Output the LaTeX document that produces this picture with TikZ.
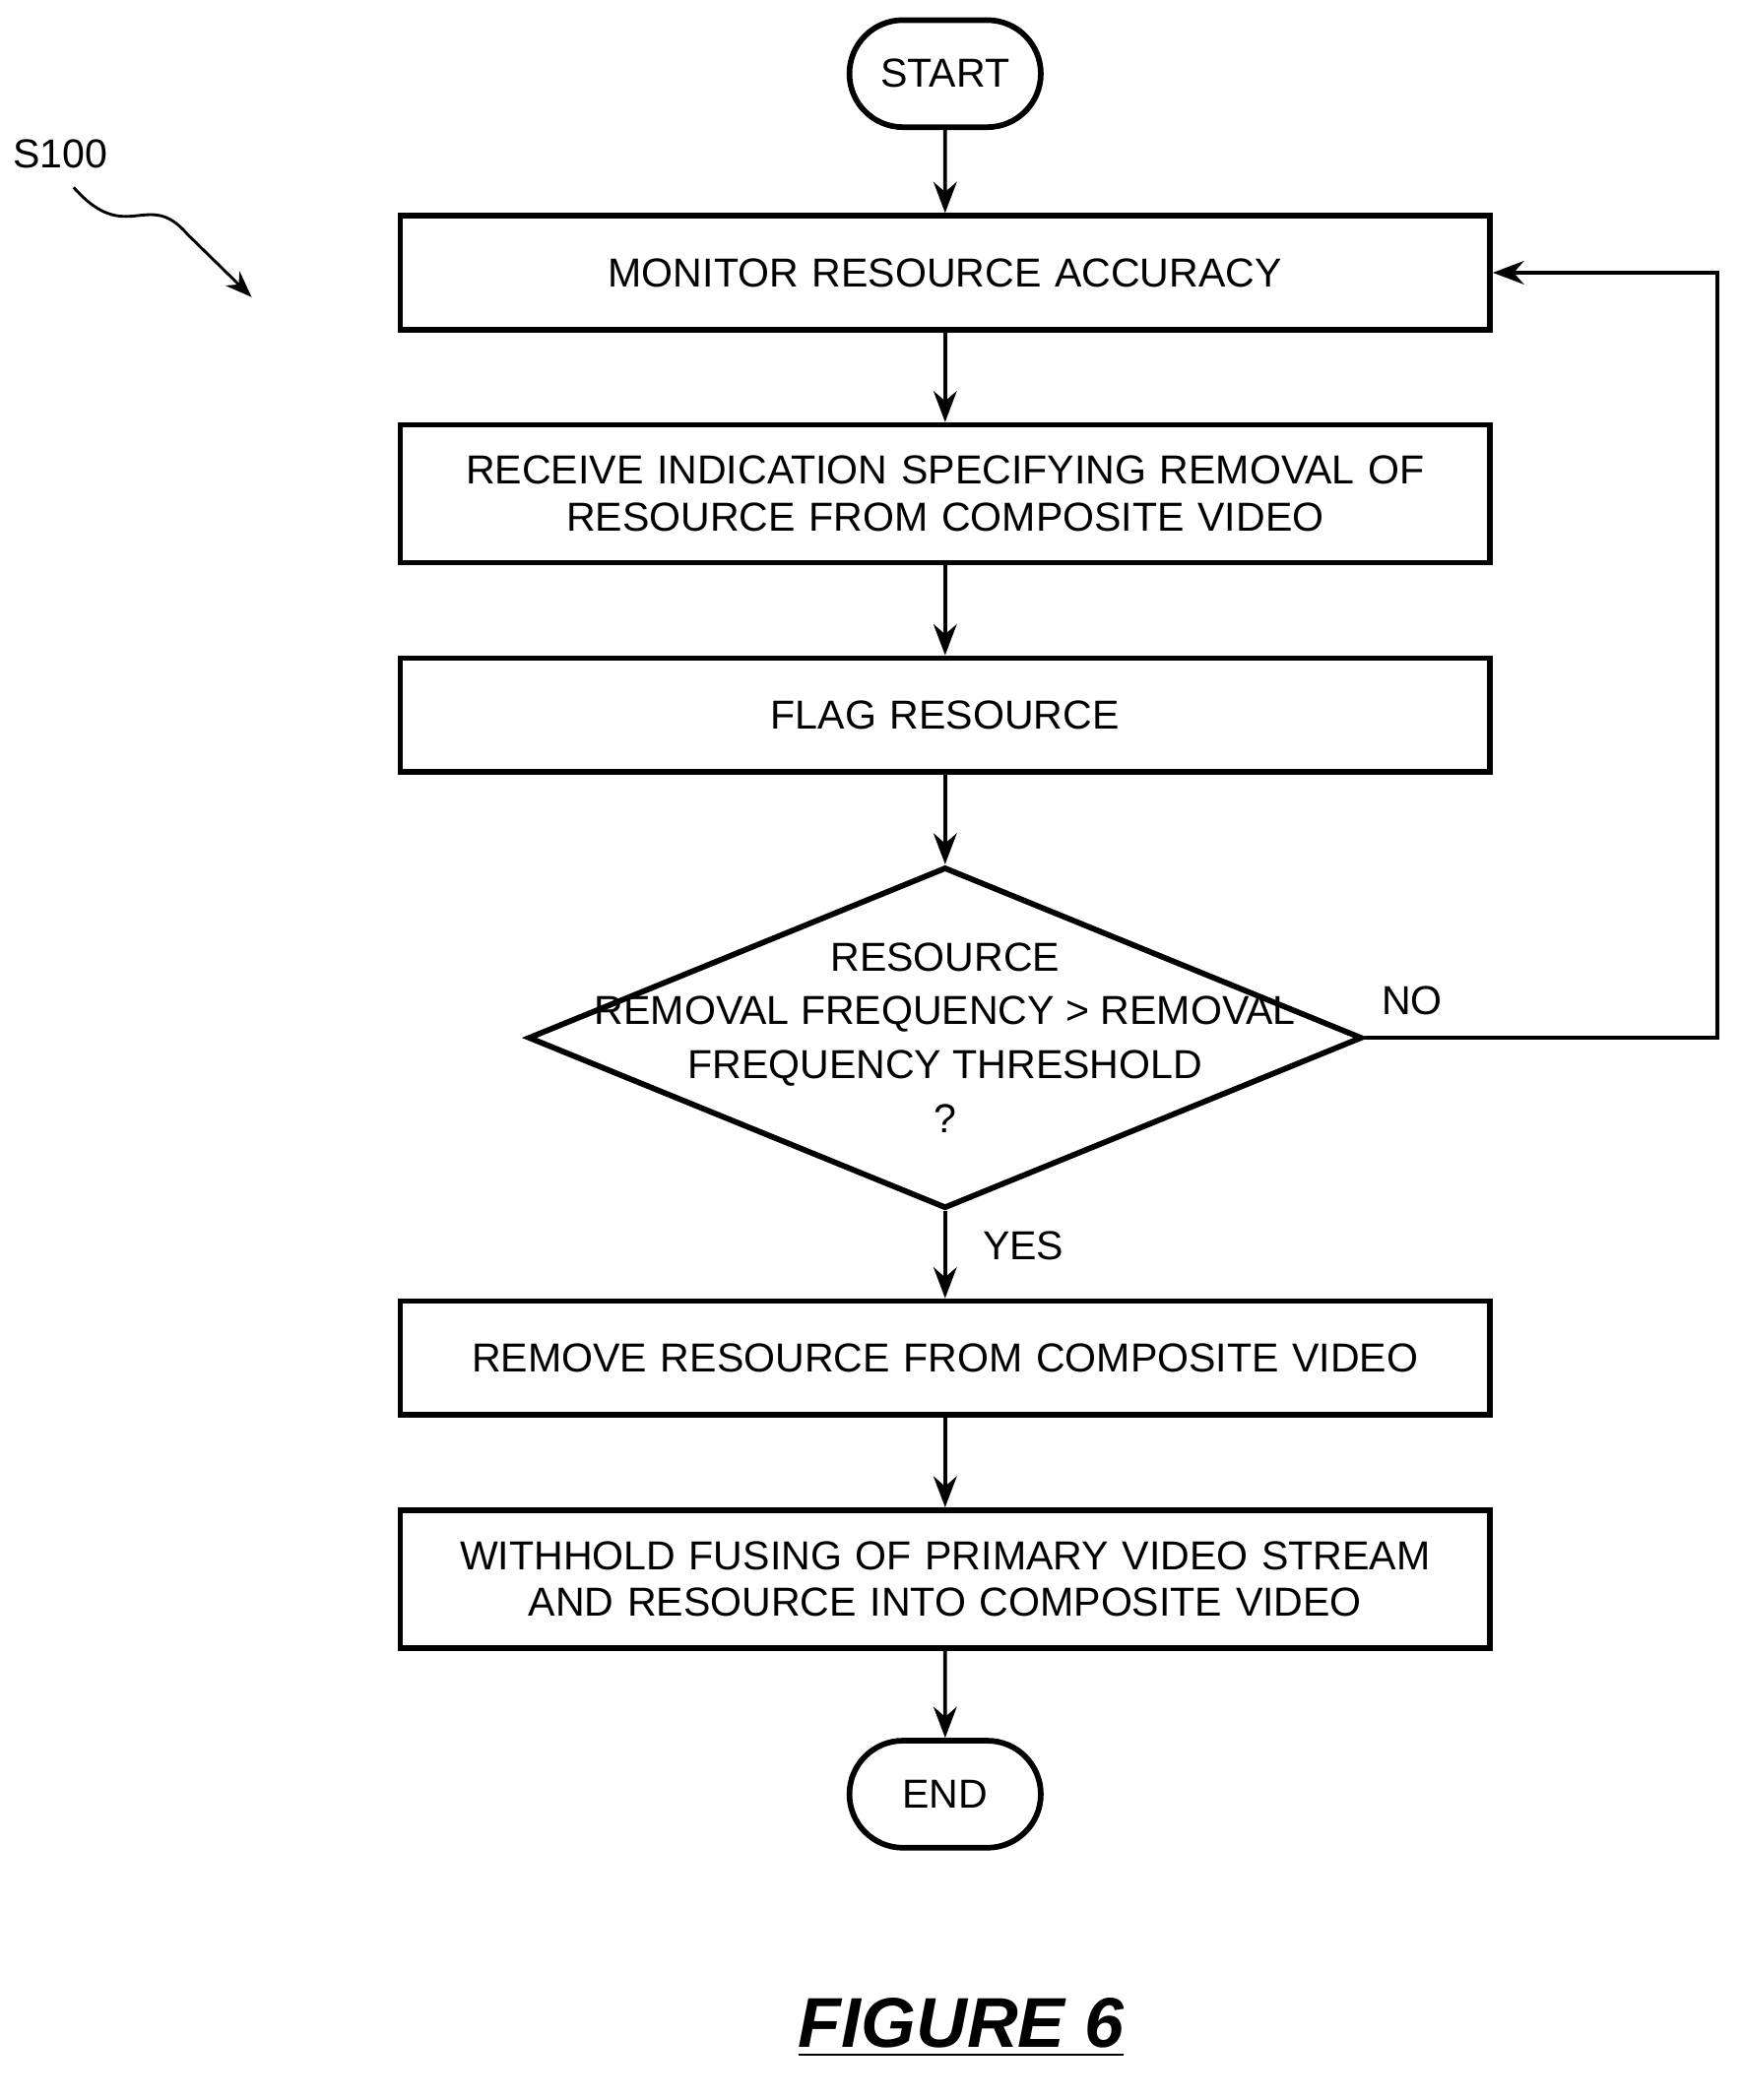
\documentclass[tikz,border=0pt]{standalone}
\usepackage{fontspec}
\setmainfont{Liberation Sans}
\usetikzlibrary{arrows.meta, positioning, shapes.geometric, shapes.misc}
\tikzset{
  process/.style={
    rectangle,
    draw=black,
    line width=1.2pt,
    text centered,
    align=center,
    text width=7.9cm,
    inner ysep=2pt,
    minimum width=8.14cm,
    minimum height=0.85cm
  },
  term/.style={
    rounded rectangle,
    draw=black,
    line width=1.2pt,
    inner xsep=1pt,
    minimum width=1.5cm,
    minimum height=0.8cm
  },
  arrow/.style={
    line width=0.8pt,
    ->,
    >=Stealth
  }
}

\begin{document}
\begin{tikzpicture}[node distance=0.67cm, font=\fontsize{8.6}{10}\selectfont]
  \useasboundingbox (0,0) rectangle (13,-15.69);
  % Terminals and steps
  \node[term] (start) at (7.06,-0.55) {START};
  \node[process, below=0.62cm of start] (monitor) {MONITOR RESOURCE ACCURACY};
  \node[process, below=of monitor, minimum height=1.03cm] (receive) {RECEIVE INDICATION SPECIFYING REMOVAL OF\\RESOURCE FROM COMPOSITE VIDEO};
  \node[process, below=of receive] (flag) {FLAG RESOURCE};
  \node[diamond, draw=black, line width=1.2pt, minimum width=6.23cm, minimum height=2.55cm, inner sep=0pt, below=of flag] (check) {};
  \node[align=center, font=\fontsize{8.6}{11.5}\selectfont] (checktext) at (check.center) {RESOURCE\\REMOVAL FREQUENCY > REMOVAL\\FREQUENCY THRESHOLD\\?};
  \node[process, below=0.65cm of check] (remove) {REMOVE RESOURCE FROM COMPOSITE VIDEO};
  \node[process, below=of remove, minimum height=1.03cm] (withhold) {WITHHOLD FUSING OF PRIMARY VIDEO STREAM\\AND RESOURCE INTO COMPOSITE VIDEO};
  \node[term, below=0.65cm of withhold] (end) {END};

  % Flow
  \draw[arrow] (start) -- (monitor);
  \draw[arrow] (monitor) -- (receive);
  \draw[arrow] (receive) -- (flag);
  \draw[arrow] (flag) -- (check);
  \draw[arrow] (check) -- (remove) node[pos=0.4, right=0.15cm] {YES};
  \draw[arrow] (remove) -- (withhold);
  \draw[arrow] (withhold) -- (end);
  \draw[arrow] (check.east) -- ++(2.63,0) |- (monitor.east);
  \node[above right=0.05cm and 0cm of check.east] (no) {NO};

  % Reference label
  \node (ref) at (0.45,-1.15) {S100};
  \coordinate (refend) at (1.88,-2.22);
  \draw[arrow, line width=0.6pt] (0.55,-1.40) .. controls (0.95,-1.85) and (1.10,-1.40) .. (1.40,-1.75) -- (refend);

  % Figure caption
  \node[font=\fontsize{15}{18}\selectfont\bfseries\itshape] (fig) at (7.18,-15.15) {\underline{FIGURE 6}};
\end{tikzpicture}
\end{document}
